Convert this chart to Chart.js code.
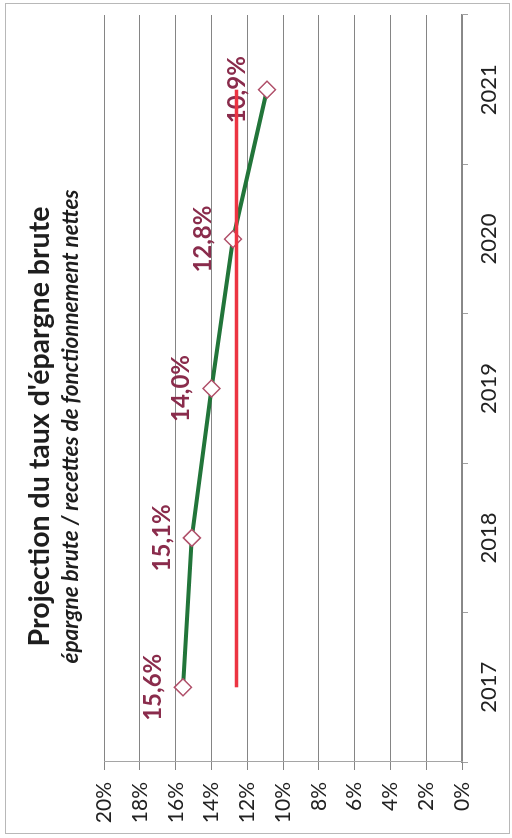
<!DOCTYPE html>
<html>
<head>
<meta charset="utf-8">
<script src="https://cdn.jsdelivr.net/npm/chart.js@4/dist/chart.umd.min.js"></script>
<style>
html,body{margin:0;padding:0;background:#fff;width:512px;height:838px;overflow:hidden}
#frame{position:absolute;left:5px;top:3px;width:505px;height:831px;border:1px solid #b8b8b8;box-sizing:border-box}
#wrap{position:absolute;left:0;top:0;width:838px;height:512px;transform-origin:0 0;transform:translate(0,838px) rotate(-90deg)}
canvas{display:block}
</style>
</head>
<body>
<div id="frame"></div>
<div id="wrap"><canvas id="c" width="838" height="512"></canvas></div>
<script>
// ---- data ----
const years = ['2017', '2018', '2019', '2020', '2021'];
const tauxEpargneBrute = [15.6, 15.1, 14.0, 12.8, 10.9];
const seuil = [12.6, 12.6, 12.6, 12.6, 12.6];
const valueMin = 0;
const valueMax = 20;
const valueStep = 2;
const titleText = "Projection du taux d'épargne brute";
const subtitleText = 'épargne brute / recettes de fonctionnement nettes';

const FONT = "Lato, 'Liberation Sans', Arial, sans-serif";

const fmtPct = v => v.toFixed(1).replace('.', ',') + '%';

const labelPlugin = {
  id: 'pointLabels',
  afterDatasetDraw(chart, args) {
    if (args.index !== 1) return;
    const ctx = chart.ctx;
    const meta = args.meta;
    const ds = chart.data.datasets[1];
    ctx.save();
    ctx.font = "bold 24px " + FONT;
    ctx.fillStyle = '#8a2c4c';
    ctx.textAlign = 'center';
    ctx.textBaseline = 'middle';
    meta.data.forEach((pt, i) => {
      ctx.fillText(fmtPct(ds.data[i]), pt.x, pt.y - 30);
    });
    ctx.restore();
  }
};

new Chart(document.getElementById('c'), {
  type: 'line',
  data: {
    labels: years,
    datasets: [
      {
        label: 'Seuil',
        data: seuil,
        borderColor: '#ec3442',
        borderWidth: 3.5,
        pointRadius: 0,
        tension: 0
      },
      {
        label: "Taux d'épargne brute",
        data: tauxEpargneBrute,
        borderColor: '#22753a',
        borderWidth: 4,
        pointStyle: 'rectRot',
        pointRadius: 8.5,
        pointBackgroundColor: '#ffffff',
        pointBorderColor: '#b0506a',
        pointBorderWidth: 1.5,
        tension: 0
      }
    ]
  },
  options: {
    responsive: false,
    animation: false,
    devicePixelRatio: 1,
    layout: { padding: { left: 0, right: 15, top: 0, bottom: 0 } },
    plugins: {
      legend: { display: false },
      tooltip: { enabled: false },
      title: {
        display: true,
        text: titleText,
        color: '#1e1e1e',
        font: { family: FONT, size: 28.5, weight: 'bold', lineHeight: 1.2 },
        padding: { top: 23, bottom: 0 }
      },
      subtitle: {
        display: true,
        text: subtitleText,
        color: '#1e1e1e',
        font: { family: FONT, size: 22.5, weight: 'bold', style: 'italic', lineHeight: 1.2 },
        padding: { top: 0, bottom: 20 }
      }
    },
    scales: {
      x: {
        type: 'category',
        offset: true,
        grid: { offset: true, drawOnChartArea: false, drawTicks: true, tickLength: 6, color: '#a0a0a0' },
        border: { display: true, color: '#8a8a8a', width: 1.5 },
        ticks: { color: '#222', font: { family: FONT, size: 22 }, padding: 8, maxRotation: 0 },
        afterFit(scale) { scale.height = 50; }
      },
      y: {
        min: valueMin,
        max: valueMax,
        grid: { color: '#858585', lineWidth: 1, tickLength: 8 },
        border: { display: true, color: '#a5a5a5', width: 1 },
        ticks: {
          stepSize: valueStep,
          color: '#222',
          font: { family: FONT, size: 21 },
          padding: 12,
          callback: v => v + '%'
        },
        afterFit(scale) { scale.width = 76; }
      }
    }
  },
  plugins: [labelPlugin]
});
</script>
</body>
</html>
